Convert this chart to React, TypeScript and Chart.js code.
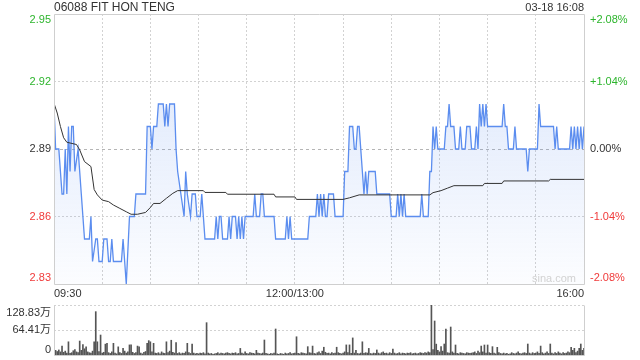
import React, { useEffect, useRef } from "react";
import { Chart, registerables } from "chart.js";

Chart.register(...registerables);

// ---------- data ----------
const TITLE = "06088 FIT HON TENG";
const STAMP = "03-18 16:08";
const WATERMARK = "sina.com";

const PREV_CLOSE = 2.89;
const PRICE_MIN = 2.83;
const PRICE_MAX = 2.95;
const PRICE_TICKS = [2.83, 2.86, 2.89, 2.92, 2.95];
const PRICE_LABELS = ["2.83", "2.86", "2.89", "2.92", "2.95"];
const PCT_LABELS = ["-2.08%", "-1.04%", "0.00%", "+1.04%", "+2.08%"];
const PRICE_GRID = [2.86, 2.92];
const PRICE_MID_GRID = [2.89];

const MINUTES_TOTAL = 330;
const TIME_TICKS = [0, 150, 330];
const TIME_LABELS = ["09:30", "12:00/13:00", "16:00"];
const TIME_GRID = [30, 60, 90, 120, 150, 180, 210, 240, 270, 300];

// [minute index, price]
const PRICE_POINTS: [number, number][] = [
  [0, 2.91], [1, 2.89], [3, 2.89], [5, 2.87], [6, 2.87], [7, 2.89], [8, 2.87], [9, 2.9],
  [10, 2.88], [11, 2.9], [12, 2.9], [13, 2.88], [15, 2.89], [16, 2.88], [17, 2.87], [18, 2.86],
  [19, 2.85], [22, 2.85], [23, 2.86], [24, 2.84], [26, 2.85], [27, 2.85], [28, 2.84], [30, 2.84],
  [31, 2.85], [33, 2.85], [34, 2.84], [35, 2.84], [36, 2.85], [37, 2.84], [42, 2.84], [43, 2.85],
  [45, 2.83], [47, 2.86], [50, 2.86], [51, 2.87], [57, 2.87], [58, 2.9], [60, 2.9], [61, 2.89],
  [62, 2.9], [64, 2.9], [65, 2.91], [68, 2.91], [69, 2.9], [70, 2.91], [71, 2.9], [72, 2.91],
  [75, 2.91], [76, 2.89], [77, 2.88], [79, 2.87], [81, 2.86], [82, 2.88], [83, 2.87], [85, 2.86],
  [86, 2.87], [88, 2.87], [89, 2.86], [91, 2.86], [92, 2.87], [93, 2.86], [94, 2.85], [100, 2.85],
  [101, 2.86], [102, 2.85], [103, 2.86], [104, 2.86], [105, 2.85], [108, 2.85], [109, 2.86], [110, 2.85],
  [111, 2.86], [113, 2.86], [114, 2.85], [115, 2.86], [116, 2.85], [117, 2.86], [118, 2.85], [119, 2.86],
  [124, 2.86], [125, 2.87], [126, 2.86], [128, 2.86], [129, 2.87], [130, 2.87], [131, 2.86], [137, 2.86],
  [138, 2.85], [144, 2.85], [145, 2.86], [146, 2.85], [147, 2.86], [148, 2.85], [158, 2.85], [159, 2.86],
  [163, 2.86], [164, 2.87], [165, 2.86], [166, 2.87], [167, 2.86], [168, 2.87], [169, 2.86], [170, 2.86],
  [171, 2.87], [174, 2.87], [175, 2.86], [180, 2.86], [181, 2.88], [183, 2.88], [184, 2.9], [186, 2.9],
  [187, 2.89], [188, 2.89], [189, 2.9], [190, 2.9], [192, 2.88], [193, 2.87], [194, 2.88], [195, 2.87],
  [196, 2.88], [200, 2.88], [201, 2.87], [209, 2.87], [210, 2.86], [213, 2.86], [214, 2.87], [215, 2.86],
  [216, 2.87], [217, 2.86], [218, 2.87], [219, 2.86], [228, 2.86], [229, 2.87], [230, 2.86], [233, 2.86],
  [234, 2.88], [235, 2.88], [236, 2.9], [237, 2.89], [238, 2.9], [239, 2.89], [243, 2.89], [244, 2.9],
  [245, 2.9], [246, 2.91], [247, 2.9], [249, 2.9], [250, 2.89], [252, 2.89], [253, 2.9], [254, 2.89],
  [256, 2.89], [257, 2.9], [259, 2.9], [260, 2.89], [262, 2.89], [263, 2.9], [264, 2.89], [265, 2.91],
  [266, 2.9], [267, 2.91], [268, 2.9], [269, 2.91], [270, 2.9], [279, 2.9], [280, 2.91], [281, 2.9],
  [282, 2.9], [283, 2.89], [286, 2.89], [287, 2.9], [288, 2.89], [294, 2.89], [295, 2.88], [296, 2.89],
  [301, 2.89], [302, 2.91], [303, 2.9], [311, 2.9], [312, 2.89], [313, 2.9], [314, 2.89], [321, 2.89],
  [322, 2.9], [323, 2.89], [324, 2.9], [325, 2.89], [326, 2.9], [327, 2.89], [328, 2.9], [329, 2.89],
  [330, 2.9],
];

// [minute index, average price]
const AVG_POINTS: [number, number][] = [
  [0, 2.9103], [2, 2.906], [4, 2.9], [6, 2.895], [8, 2.893], [14, 2.892], [16, 2.8896], [19, 2.8844],
  [23, 2.8822], [25, 2.872], [27, 2.8696], [30, 2.8673], [34, 2.8666], [37, 2.8651], [41, 2.8636], [45, 2.8621],
  [48, 2.861], [52, 2.861], [57, 2.8618], [60, 2.864], [62, 2.8658], [66, 2.8658], [70, 2.8681], [74, 2.8703],
  [77, 2.8715], [93, 2.8715], [94, 2.8707], [107, 2.8707], [108, 2.8699], [137, 2.8699], [138, 2.8687], [150, 2.8687],
  [151, 2.8676], [180, 2.8676], [184, 2.8683], [190, 2.8696], [234, 2.8696], [236, 2.8706], [241, 2.8715], [245, 2.8726],
  [249, 2.8737], [267, 2.8737], [268, 2.8747], [279, 2.8747], [280, 2.8758], [308, 2.8758], [309, 2.8765], [330, 2.8765],
];

// volume per minute, in 万
const VOLUME = [
  75.6, 12, 9, 13, 8, 23, 7, 10, 5, 34,
  4, 6, 11, 14, 8, 6, 36, 12, 27, 16,
  21, 8, 6, 5, 10, 34, 111.7, 34, 9, 51.5,
  5, 7, 28, 30, 6, 4, 8, 30, 5, 3,
  21, 6, 4, 17, 10, 5, 8, 26, 26, 7,
  4, 6, 23, 21, 5, 3, 7, 9, 30, 37,
  34, 8, 30, 5, 4, 6, 3, 8, 5, 4,
  34, 6, 10, 38, 7, 5, 32, 4, 6, 3,
  5, 4, 8, 30, 6, 4, 28, 5, 3, 4,
  3, 5, 4, 6, 3, 83.3, 5, 3, 4, 2,
  3, 4, 6, 3, 5, 4, 3, 5, 6, 4,
  3, 5, 4, 6, 3, 4, 17, 5, 3, 8,
  4, 3, 6, 5, 4, 3, 12, 5, 4, 3,
  5, 38.6, 4, 3, 2, 4, 3, 5, 67, 3,
  2, 4, 3, 2, 5, 3, 4, 6, 3, 4,
  5, 47, 4, 3, 6, 5, 4, 3, 21.5, 6,
  5, 23, 4, 3, 6, 8, 4, 10, 20, 7,
  4, 5, 3, 6, 4, 5, 20, 6, 4, 3,
  5, 8, 26, 6, 26, 4, 44, 5, 12, 4,
  3, 5, 34, 4, 6, 5, 17, 4, 3, 5,
  4, 13, 5, 3, 6, 8, 4, 5, 3, 6,
  4, 15, 5, 3, 4, 6, 3, 5, 4, 3,
  5, 4, 6, 3, 4, 5, 3, 4, 6, 5,
  4, 6, 5, 8, 6, 128.83, 14, 87.6, 28, 12,
  8, 21.5, 10, 28.3, 67, 6, 5, 72.1, 8, 5,
  25.8, 4, 3, 6, 5, 4, 3, 6, 5, 4,
  5, 6, 8, 4, 10, 6, 23, 8, 25.8, 5,
  25.8, 6, 4, 21.5, 5, 3, 19.8, 6, 4, 3,
  5, 3, 4, 2, 3, 6, 4, 3, 5, 8,
  4, 3, 5, 6, 4, 28.3, 5, 3, 6, 4,
  5, 8, 4, 23, 6, 3, 5, 8, 4, 28.3,
  5, 3, 6, 4, 8, 5, 3, 6, 4, 5,
  8, 6, 19.8, 12, 17.2, 6, 10, 17.2, 28.3, 12,
  17.2,
];
const VOL_MAX = 128.83;
const VOL_TICKS = [0, 64.41, 128.83];
const VOL_LABELS = ["0", "64.41万", "128.83万"];
const VOL_GRID = [64.41, 128.83];

// ---------- style ----------
const FONT = '"Liberation Sans", Arial, "Noto Sans CJK SC", sans-serif';
const GREEN = "#2db52d";
const RED = "#f03a3a";
const NEUTRAL = "#333333";
const LINE_BLUE = "#5b8def";
const FRAME = "#cfcfcf";
const GRID = "#d2d2d2";

const priceColor = (v: number) =>
  v > PREV_CLOSE + 1e-9 ? GREEN : v < PREV_CLOSE - 1e-9 ? RED : NEUTRAL;

// label positions: edge labels pushed inside the plot by a few pixels
const nudgeTicks = (ticks: number[], min: number, max: number, pxSpan: number, topPx: number, bottomPx: number) =>
  ticks.map((v, i) => {
    const per = (max - min) / pxSpan;
    if (i === 0) return v + bottomPx * per;
    if (i === ticks.length - 1) return v - topPx * per;
    return v;
  });

function labelAxis(position: string, min: number, max: number, values: number[], labels: string[], colors: string[], width: number, padding: number) {
  return {
    type: "linear",
    position,
    min,
    max,
    display: true,
    grid: { display: false, drawTicks: false },
    border: { display: false },
    ticks: {
      autoSkip: false,
      padding,
      font: { size: 11, family: FONT },
      color: (c: any) => colors[c.index] ?? NEUTRAL,
      callback: (_v: any, i: number) => labels[i],
    },
    afterBuildTicks: (s: any) => {
      s.ticks = values.map((v) => ({ value: v }));
    },
    afterFit: (s: any) => {
      s.width = width;
      s.paddingTop = 0;
      s.paddingBottom = 0;
    },
  };
}

function gridAxis(position: string, min: number, max: number, values: number[], dash: number[], color: string, horizontal: boolean) {
  return {
    type: "linear",
    position,
    min,
    max,
    display: true,
    grid: { display: true, drawTicks: false, color, lineWidth: 1 },
    border: { display: false, dash },
    ticks: { display: false },
    afterBuildTicks: (s: any) => {
      s.ticks = values.map((v) => ({ value: v }));
    },
    afterFit: (s: any) => {
      if (horizontal) s.height = 0;
      else s.width = 0;
      s.paddingTop = 0;
      s.paddingBottom = 0;
      s.paddingLeft = 0;
      s.paddingRight = 0;
    },
  };
}

const framePlugin = (withTop: boolean) => ({
  id: "frame",
  afterDraw(chart: any) {
    const { ctx, chartArea: a } = chart;
    const l = Math.round(a.left) + 0.5;
    const r = Math.round(a.right) + 0.5;
    const t = Math.round(a.top) + 0.5;
    const b = Math.round(a.bottom) + 0.5;
    ctx.save();
    ctx.strokeStyle = FRAME;
    ctx.lineWidth = 1;
    ctx.beginPath();
    if (withTop) {
      ctx.moveTo(l, t);
      ctx.lineTo(r, t);
    }
    ctx.moveTo(l, t);
    ctx.lineTo(l, b);
    ctx.lineTo(r, b);
    ctx.lineTo(r, t);
    ctx.stroke();
    ctx.restore();
  },
});

export default function App() {
  const mainRef = useRef<HTMLCanvasElement>(null);
  const volRef = useRef<HTMLCanvasElement>(null);

  useEffect(() => {
    Chart.defaults.font.family = FONT;
    Chart.defaults.color = NEUTRAL;

    const priceLabelPos = nudgeTicks(PRICE_TICKS, PRICE_MIN, PRICE_MAX, 270, 6, 6);
    const priceColors = PRICE_TICKS.map(priceColor);

    const main = new Chart(mainRef.current as HTMLCanvasElement, {
      type: "line",
      data: {
        datasets: [
          {
            label: "avg",
            data: AVG_POINTS.map(([m, p]) => ({ x: m, y: p })),
            borderColor: "#333333",
            borderWidth: 1,
            pointRadius: 0,
            fill: false,
            tension: 0,
            xAxisID: "x",
            yAxisID: "y",
          },
          {
            label: "price",
            data: PRICE_POINTS.map(([m, p]) => ({ x: m, y: p })),
            borderColor: LINE_BLUE,
            borderWidth: 1.3,
            pointRadius: 0,
            tension: 0,
            fill: "start",
            backgroundColor: (c: any) => {
              const area = c.chart.chartArea;
              if (!area) return "rgba(91,141,239,0.15)";
              const g = c.chart.ctx.createLinearGradient(0, area.top, 0, area.bottom);
              g.addColorStop(0, "rgba(91,141,239,0.24)");
              g.addColorStop(1, "rgba(91,141,239,0.02)");
              return g;
            },
            xAxisID: "x",
            yAxisID: "y",
          },
        ],
      },
      options: {
        animation: false,
        responsive: false,
        devicePixelRatio: 1,
        layout: { padding: { top: 14, left: 0, right: 0, bottom: 0 } },
        plugins: { legend: { display: false }, tooltip: { enabled: false } },
        events: [],
        scales: {
          y: labelAxis("left", PRICE_MIN, PRICE_MAX, priceLabelPos, PRICE_LABELS, priceColors, 54, 3),
          yPct: labelAxis("right", PRICE_MIN, PRICE_MAX, priceLabelPos, PCT_LABELS, priceColors, 56, 6),
          yGrid: gridAxis("left", PRICE_MIN, PRICE_MAX, PRICE_GRID, [2, 2], GRID, false),
          yMid: gridAxis("left", PRICE_MIN, PRICE_MAX, PRICE_MID_GRID, [3, 3], "#b5b5b5", false),
          x: gridAxis("bottom", 0, MINUTES_TOTAL, TIME_GRID, [2, 2], GRID, true),
          xLabel: {
            type: "linear",
            position: "bottom",
            min: 0,
            max: MINUTES_TOTAL,
            display: true,
            grid: { display: false, drawTicks: false },
            border: { display: false },
            ticks: {
              autoSkip: false,
              maxRotation: 0,
              minRotation: 0,
              align: "inner",
              padding: 3,
              font: { size: 11, family: FONT },
              color: NEUTRAL,
              callback: (_v: any, i: number) => TIME_LABELS[i],
            },
            afterBuildTicks: (s: any) => {
              s.ticks = TIME_TICKS.map((v) => ({ value: v }));
            },
            afterFit: (s: any) => {
              s.height = 16;
              s.paddingLeft = 0;
              s.paddingRight = 0;
            },
          },
        } as any,
      },
      plugins: [framePlugin(true)],
    } as any);

    const volLabelPos = nudgeTicks(VOL_TICKS, 0, VOL_MAX, 50, 7.5, 5);

    const vol = new Chart(volRef.current as HTMLCanvasElement, {
      type: "bar",
      data: {
        datasets: [
          {
            label: "volume",
            data: VOLUME.map((v, i) => ({ x: i, y: v })),
            backgroundColor: "#555555",
            borderWidth: 0,
            barThickness: 1,
            xAxisID: "x",
            yAxisID: "y",
          },
        ],
      },
      options: {
        animation: false,
        responsive: false,
        devicePixelRatio: 1,
        layout: { padding: { top: 9, left: 0, right: 56, bottom: 5 } },
        plugins: { legend: { display: false }, tooltip: { enabled: false } },
        events: [],
        scales: {
          x: { type: "linear", min: 0, max: MINUTES_TOTAL, offset: false, display: false, grid: { offset: false } },
          y: labelAxis("left", 0, VOL_MAX, volLabelPos, VOL_LABELS, [NEUTRAL, NEUTRAL, NEUTRAL], 54, 3),
          yGrid: gridAxis("left", 0, VOL_MAX, VOL_GRID, [2, 2], GRID, false),
        } as any,
      },
      plugins: [framePlugin(false)],
    } as any);

    return () => {
      main.destroy();
      vol.destroy();
    };
  }, []);

  return (
    <div style={{ position: "fixed", left: 0, top: 0, width: 640, height: 360, background: "#fff", fontFamily: FONT, overflow: "hidden" }}>
      <canvas ref={mainRef} width={640} height={300} style={{ position: "absolute", left: 0, top: 0 }} />
      <canvas ref={volRef} width={640} height={64} style={{ position: "absolute", left: 0, top: 296 }} />
      <div style={{ position: "absolute", left: 54, top: 0, fontSize: 12, lineHeight: "14px", color: "#333", whiteSpace: "nowrap" }}>{TITLE}</div>
      <div style={{ position: "absolute", right: 56, top: 1, fontSize: 11, lineHeight: "13px", color: "#333", whiteSpace: "nowrap" }}>{STAMP}</div>
      <div style={{ position: "absolute", left: 532, top: 272, fontSize: 11, lineHeight: "12px", color: "#d2d2d2", whiteSpace: "nowrap" }}>{WATERMARK}</div>
    </div>
  );
}
